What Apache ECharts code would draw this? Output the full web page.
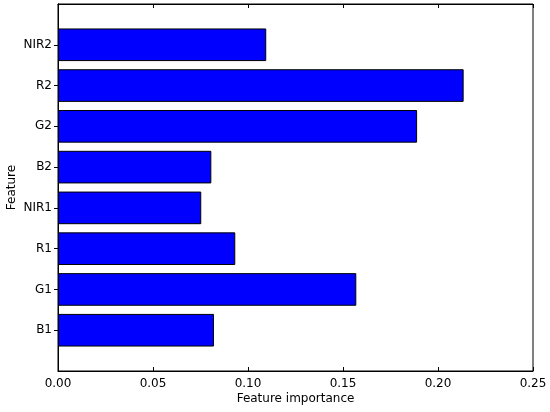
<!DOCTYPE html>
<html>
<head>
<meta charset="utf-8">
<script src="https://cdn.jsdelivr.net/npm/echarts@6/dist/echarts.min.js"></script>
<style>html,body{margin:0;padding:0;background:#fff;}#c{width:550px;height:412px;}</style>
</head>
<body>
<div id="c"></div>
<script>
const categories = ['B1', 'G1', 'R1', 'NIR1', 'B2', 'G2', 'R2', 'NIR2'];
const importance = [0.0821, 0.157, 0.0933, 0.0754, 0.0807, 0.189, 0.2135, 0.1096];
const xTicks = [0, 0.05, 0.10, 0.15, 0.20, 0.25];

// padded category list so that axis spans -1 .. 8 like matplotlib
const axisCats = [''].concat(categories, ['']);
const barData = ['-'].concat(importance, ['-']);
const realTick = (i) => i > 0 && i < axisCats.length - 1;

const font = 'DejaVu Sans';
const chart = echarts.init(document.getElementById('c'), null, {renderer: 'canvas'});
const lineStyle = {color: '#000', width: 1};
chart.setOption({
  animation: false,
  grid: {left: 58, right: 17, top: 4, bottom: 41, show: true, borderColor: '#000', borderWidth: 1,
         containLabel: false, outerBoundsMode: 'none'},
  xAxis: [{
    type: 'value', min: xTicks[0], max: xTicks[xTicks.length - 1], interval: 0.05,
    position: 'bottom',
    axisLine: {show: true, lineStyle},
    axisTick: {show: true, inside: true, length: 4, lineStyle},
    splitLine: {show: false},
    axisLabel: {formatter: v => v.toFixed(2), color: '#000', fontFamily: font, fontSize: 12, margin: 7},
    name: 'Feature importance', nameLocation: 'middle', nameGap: 22, nameMoveOverlap: false,
    nameTextStyle: {color: '#000', fontFamily: font, fontSize: 12}
  }, {
    type: 'value', min: xTicks[0], max: xTicks[xTicks.length - 1], interval: 0.05,
    position: 'top',
    axisLine: {show: true, lineStyle},
    axisTick: {show: true, inside: true, length: 4, lineStyle},
    splitLine: {show: false},
    axisLabel: {show: false}
  }],
  yAxis: [{
    type: 'category', data: axisCats, boundaryGap: false,
    position: 'left',
    axisLine: {show: true, lineStyle},
    axisTick: {show: true, inside: true, length: 4, lineStyle, interval: (i) => realTick(i)},
    axisLabel: {color: '#000', fontFamily: font, fontSize: 12, margin: 6, interval: 0},
    splitLine: {show: false},
    name: 'Feature', nameLocation: 'middle', nameGap: 40, nameMoveOverlap: false,
    nameTextStyle: {color: '#000', fontFamily: font, fontSize: 12}
  }, {
    type: 'category', data: axisCats, boundaryGap: false,
    position: 'right',
    axisLine: {show: true, lineStyle},
    axisTick: {show: true, inside: true, length: 4, lineStyle, interval: (i) => realTick(i)},
    axisLabel: {show: false},
    splitLine: {show: false}
  }],
  series: [{
    type: 'bar', xAxisIndex: 0, yAxisIndex: 0,
    data: barData, barWidth: '80%',
    itemStyle: {color: '#0000ff', borderColor: '#000', borderWidth: 1}
  }]
});
</script>
</body>
</html>
